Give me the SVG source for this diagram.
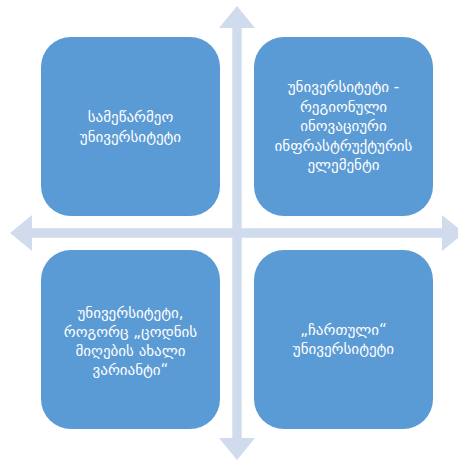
<svg xmlns="http://www.w3.org/2000/svg" width="458" height="464" viewBox="0 0 458 464">
<style>
.box{fill:#5B9BD5;}
.arr{fill:#D0DCEE;}
.t{font-family:"DejaVu Sans","Noto Sans",sans-serif;font-size:15px;fill:#FFFFFF;text-anchor:middle;}
</style>
<rect width="458" height="464" fill="#FFFFFF"/>
<g id="connectors">
<polygon class="arr" points="237,6 255,28 241.7,28 241.7,438 255,438 237,460 219,438 232.3,438 232.3,28 219,28"/>
<polygon class="arr" points="10,233 32,215 32,228.3 442,228.3 442,215 464,233 442,251 442,237.7 32,237.7 32,251"/>
</g>
<g id="node1">
<rect class="box" x="41" y="37" width="179" height="179" rx="30" ry="30"/>
<text class="t" x="130.5" y="122">სამეწარმეო</text>
<text class="t" x="130.5" y="142">უნივერსიტეტი</text>
</g>
<g id="node2">
<rect class="box" x="254" y="37" width="179" height="179" rx="30" ry="30"/>
<text class="t" x="343.5" y="92">უნივერსიტეტი -</text>
<text class="t" x="343.5" y="111.5">რეგიონული</text>
<text class="t" x="343.5" y="131">ინოვაციური</text>
<text class="t" x="343.5" y="150.5">ინფრასტრუქტურის</text>
<text class="t" x="343.5" y="170">ელემენტი</text>
</g>
<g id="node3">
<rect class="box" x="41" y="250" width="179" height="179" rx="30" ry="30"/>
<text class="t" x="130.5" y="318">უნივერსიტეტი,</text>
<text class="t" x="130.5" y="337">როგორც „ცოდნის</text>
<text class="t" x="130.5" y="356">მიღების ახალი</text>
<text class="t" x="130.5" y="375">ვარიანტი“</text>
</g>
<g id="node4">
<rect class="box" x="254" y="250" width="179" height="179" rx="30" ry="30"/>
<text class="t" x="343.5" y="335">„ჩართული“</text>
<text class="t" x="343.5" y="354">უნივერსიტეტი</text>
</g>
</svg>
